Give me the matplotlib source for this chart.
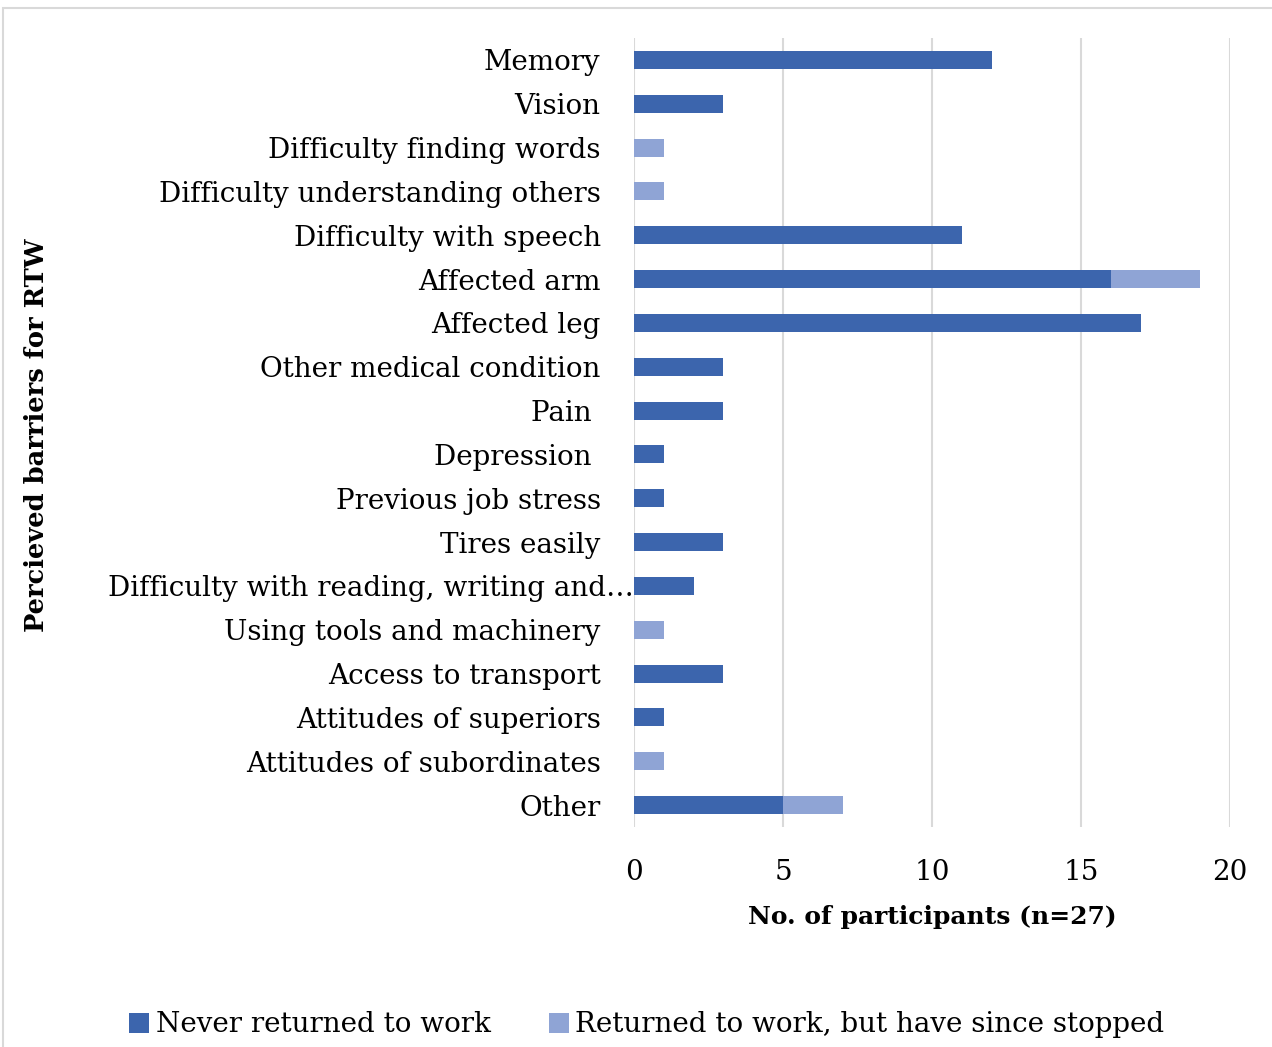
import numpy as np
import matplotlib.pyplot as plt
import matplotlib.transforms as mtransforms
from matplotlib.patches import Rectangle

plt.rcParams['font.family'] = ['DejaVu Serif']

barriers = ['Memory', 'Vision', 'Difficulty finding words',
            'Difficulty understanding others', 'Difficulty with speech',
            'Affected arm', 'Affected leg', 'Other medical condition',
            'Pain ', 'Depression ', 'Previous job stress', 'Tires easily',
            'Difficulty with reading, writing and\u2026',
            'Using tools and machinery', 'Access to transport',
            'Attitudes of superiors', 'Attitudes of subordinates', 'Other']
never_returned = [12, 3, 0, 0, 11, 16, 17, 3, 3, 1, 1, 3, 2, 0, 3, 1, 0, 5]
returned_stopped = [0, 0, 1, 1, 0, 3, 0, 0, 0, 0, 0, 0, 0, 1, 0, 0, 1, 2]
xticks = [0, 5, 10, 15, 20]

dark = '#3c65ad'
light = '#8fa4d5'
fs = 20

fig = plt.figure(figsize=(12.72, 10.47), dpi=100)
ax = fig.add_axes([634 / 1272, 1 - 827 / 1047, 596 / 1272, 789 / 1047])

y = np.arange(len(barriers))
never = np.array(never_returned)
ret = np.array(returned_stopped)
ax.barh(y, never, height=0.41, color=dark, label='Never returned to work', zorder=3)
ax.barh(y, ret, left=never, height=0.41, color=light,
        label='Returned to work, but have since stopped', zorder=3)

ax.set_ylim(len(barriers) - 0.5, -0.5)
ax.set_xlim(0, 20)
ax.set_yticks(y)
ax.set_yticklabels(barriers, fontsize=fs)
ax.set_xticks(xticks)
ax.set_xticklabels([str(t) for t in xticks], fontsize=fs)
ax.tick_params(length=0)
ax.tick_params(axis='y', pad=24)
ax.tick_params(axis='x', pad=23)
for s in ax.spines.values():
    s.set_visible(False)
ax.grid(axis='x', color='#d9d9d9', linewidth=1.5, zorder=0)
ax.set_axisbelow(True)

# the clipped long label runs right up to the axis
shift = mtransforms.ScaledTranslation(24 / 72, 0, fig.dpi_scale_trans)
long_lbl = ax.get_yticklabels()[12]
long_lbl.set_transform(long_lbl.get_transform() + shift)

ax.set_xlabel('No. of participants (n=27)', fontsize=18, fontweight='bold', labelpad=14)
fig.text(37 / 1272, 1 - 435 / 1047, 'Percieved barriers for RTW', rotation=90,
         fontsize=18.5, fontweight='bold', ha='center', va='center')

fig.legend(loc='center', bbox_to_anchor=(647 / 1272, 1 - 1025 / 1047), ncol=2,
           frameon=False, fontsize=fs, handlelength=0.7, handleheight=0.7,
           handletextpad=0.25, columnspacing=2.1)

fig.patches.append(Rectangle((3 / 1272, -0.05), 1.2, 1 - 8 / 1047 + 0.05,
                             transform=fig.transFigure, fill=False,
                             edgecolor='#d9d9d9', linewidth=1.5))

fig.savefig('out.png', dpi=100)
